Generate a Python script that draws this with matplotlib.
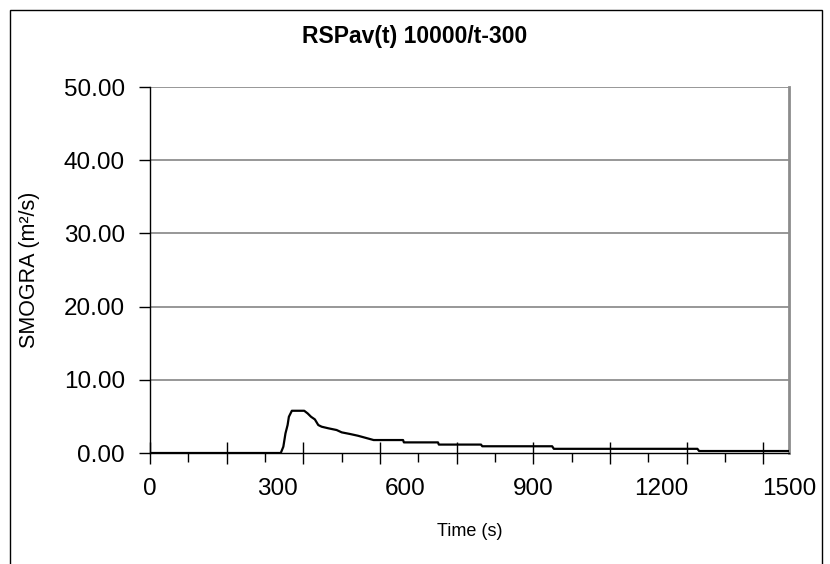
import matplotlib.pyplot as plt
import matplotlib.patches as mpatches
import numpy as np

plt.rcParams['font.family'] = ['Liberation Sans', 'DejaVu Sans']

# RSPav(t) trace, corner points of the curve (time in s, SMOGRA in m2/s)
time_s = [0, 307, 313, 318, 323, 326, 333, 362, 370, 378, 387, 395, 403,
          419, 438, 450, 470, 488, 505, 525, 594, 596, 676, 678, 777, 780,
          944, 948, 1285, 1289, 1500]
smogra = [0.0, 0.0, 0.86, 2.68, 3.82, 4.95, 5.77, 5.77, 5.41, 4.95, 4.59,
          3.82, 3.59, 3.37, 3.14, 2.82, 2.59, 2.36, 2.09, 1.77, 1.77, 1.45,
          1.45, 1.15, 1.15, 0.92, 0.92, 0.57, 0.57, 0.27, 0.27]

x_labels = [0, 300, 600, 900, 1200, 1500]
y_ticks = [0, 10, 20, 30, 40, 50]

fig = plt.figure(figsize=(8.3, 5.64), dpi=100)
ax = fig.add_axes([150 / 830, 111 / 564, 639 / 830, 366 / 564])

ax.plot(time_s, smogra, color='black', lw=1.6, zorder=3)

ax.set_xlim(0, 1500)
ax.set_ylim(0, 50)

# horizontal gridlines
for v in y_ticks[1:]:
    ax.axhline(v, color='#7a7a7a', lw=1.1, zorder=1)

ax.spines['top'].set_visible(False)
ax.spines['right'].set_color('#8c8c8c')
ax.spines['right'].set_linewidth(2)
ax.spines['left'].set_linewidth(1)
ax.spines['bottom'].set_linewidth(1)

ax.set_yticks(y_ticks)
ax.set_yticklabels([f'{v:.2f}' for v in y_ticks])
ax.tick_params(axis='y', direction='out', length=8, width=1, pad=10,
               labelsize=17.5)

# tick marks every 180 s, labels every 300 s
ax.set_xticks(np.arange(0, 1500, 180))
ax.set_xticklabels([])
ax.set_xticks(np.arange(90, 1500, 180), minor=True)
ax.tick_params(axis='x', which='major', direction='inout', length=16, width=1)
ax.tick_params(axis='x', which='minor', direction='out', length=6.5, width=1)

sec = ax.secondary_xaxis('bottom')
sec.set_xticks(x_labels)
sec.set_xticklabels([str(v) for v in x_labels])
sec.tick_params(length=0, pad=18, labelsize=17.5)
sec.spines['bottom'].set_visible(False)

ax.set_xlabel('Time (s)', fontsize=13, labelpad=0)
ax.xaxis.set_label_coords(0.5, -0.19)
ax.set_ylabel('SMOGRA (m²/s)', fontsize=15.5)
ax.yaxis.set_label_coords(-0.172, 0.5)

fig.text(415 / 830, 1 - 36 / 564, 'RSPav(t) 10000/t-300', ha='center',
         va='center', fontsize=16.5, fontweight='bold')

# chart frame
fig.add_artist(mpatches.Rectangle((10 / 830, -0.1), 812 / 830,
                                  1.1 - 10 / 564, transform=fig.transFigure,
                                  fill=False, edgecolor='black', lw=1))

fig.savefig('out.png', dpi=100)
